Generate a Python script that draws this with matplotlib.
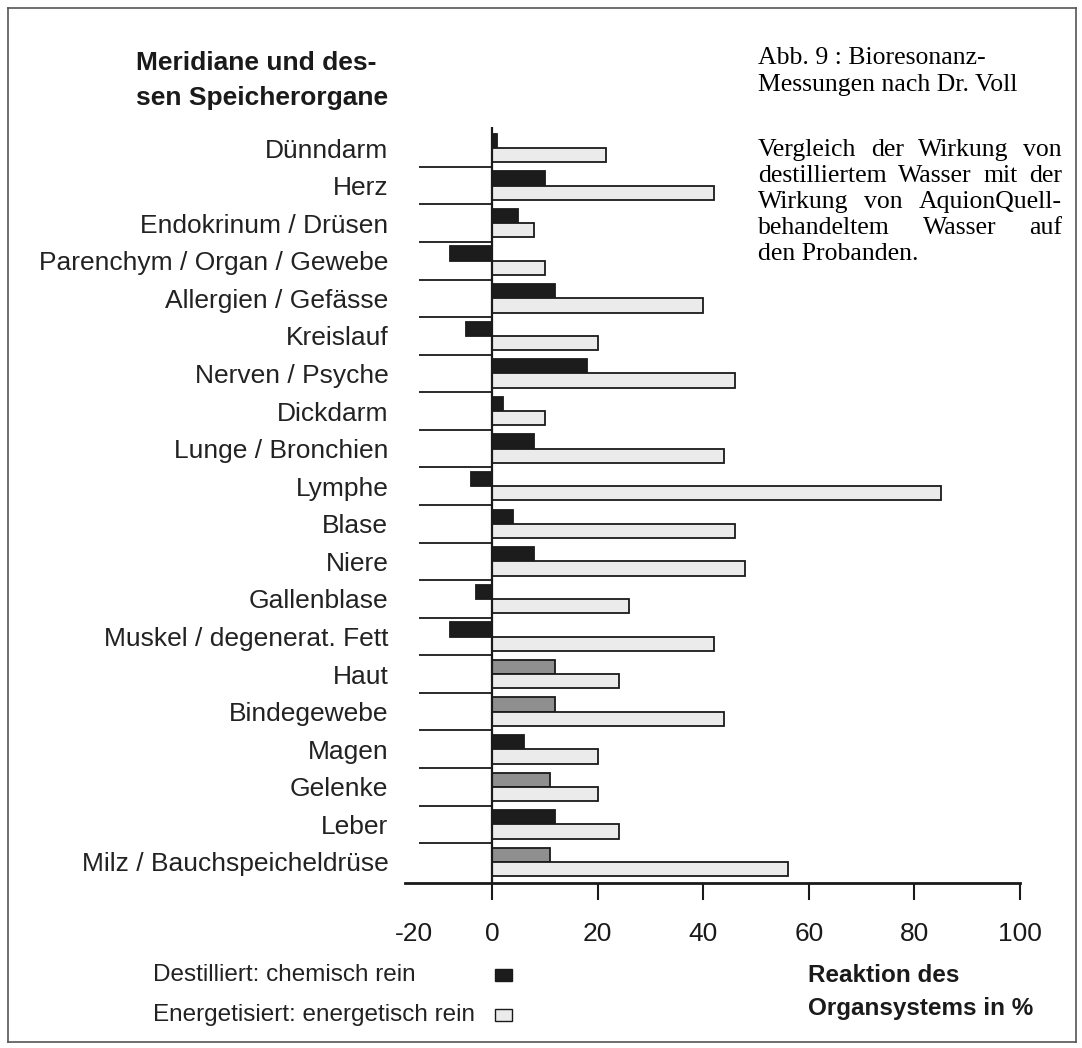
import matplotlib
matplotlib.use('Agg')
import matplotlib.pyplot as plt
from matplotlib.patches import Rectangle
from matplotlib.lines import Line2D
import numpy as np

# ---------------- data ----------------
categories = ["Dünndarm", "Herz", "Endokrinum / Drüsen", "Parenchym / Organ / Gewebe",
              "Allergien / Gefässe", "Kreislauf", "Nerven / Psyche", "Dickdarm",
              "Lunge / Bronchien", "Lymphe", "Blase", "Niere", "Gallenblase",
              "Muskel / degenerat. Fett", "Haut", "Bindegewebe", "Magen", "Gelenke",
              "Leber", "Milz / Bauchspeicheldrüse"]
destilliert = [1, 10, 5, -8, 12, -5, 18, 2, 8, -4, 4, 8, -3, -8, 12, 12, 6, 11, 12, 11]
energetisiert = [21.5, 42, 8, 10, 40, 20, 46, 10, 44, 85, 46, 48, 26, 42, 24, 44, 20, 20, 24, 56]
x_ticks = [0, 20, 40, 60, 80, 100]
x_tick_labels = ["0", "20", "40", "60", "80", "100"]
left_tick_label = "-20"
legend_labels = ["Destilliert: chemisch rein", "Energetisiert: energetisch rein"]

# ---------------- style ----------------
W, H = 1082, 1048
DARK = '#1c1c1c'
FADED = '#8f8f8f'
LIGHT = '#ebebeb'
INK = '#1a1a1a'
dark_colors = [DARK] * len(categories)
for name in ["Haut", "Bindegewebe", "Gelenke", "Milz / Bauchspeicheldrüse"]:
    dark_colors[categories.index(name)] = FADED

SANS = ['Liberation Sans', 'DejaVu Sans']
SERIF = ['Liberation Serif', 'DejaVu Serif']

def fx(px):
    return px / W

def fy(py):
    return 1 - py / H

fig = plt.figure(figsize=(W / 100, H / 100), dpi=100)
fig.patch.set_facecolor('white')

ax_left, ax_right, ax_top, ax_bottom = 405, 1020, 127, 883
ax = fig.add_axes([fx(ax_left), fy(ax_bottom), (ax_right - ax_left) / W, (ax_bottom - ax_top) / H])

n = len(categories)
y = np.arange(n)
bh = 0.38
ax.barh(y - bh / 2, destilliert, height=bh, color=dark_colors, edgecolor=INK, linewidth=1.3, zorder=3)
ax.barh(y + bh / 2, energetisiert, height=bh, color=LIGHT, edgecolor=INK, linewidth=1.3, zorder=3)

xmin = -16.5
ax.set_xlim(xmin, 100)
ax.set_ylim(n - 1 + 0.56, -0.56)

# separator lines between categories (left of zero)
for b in np.arange(n - 1) + 0.5:
    ax.plot([-13.8, 0], [b, b], color='#2a2a2a', lw=1.4, zorder=2, solid_capstyle='butt')

# zero line
ax.axvline(0, color=INK, lw=1.6, zorder=4)

for s in ['top', 'right', 'left']:
    ax.spines[s].set_visible(False)
ax.spines['bottom'].set_linewidth(2.0)
ax.spines['bottom'].set_color(INK)

ax.set_xticks([xmin + 1.7] + x_ticks)
ax.set_xticklabels([left_tick_label] + x_tick_labels, fontsize=19, family=SANS, color=INK)
ax.tick_params(axis='x', direction='out', length=12, width=1.5, pad=16, color=INK)
ax.xaxis.get_major_ticks()[0].tick1line.set_visible(False)

ax.set_yticks(y)
ax.set_yticklabels(categories, fontsize=19, family=SANS, color='#222222')
ax.tick_params(axis='y', length=0, pad=12)

# title (left)
fig.text(fx(136), fy(63), "Meridiane und des-", fontsize=19, fontweight='bold', family=SANS,
         color=INK, ha='left', va='center')
fig.text(fx(136), fy(98), "sen Speicherorgane", fontsize=19, fontweight='bold', family=SANS,
         color=INK, ha='left', va='center')

# right caption (serif)
fig.text(fx(758), fy(58), "Abb. 9 : Bioresonanz-", fontsize=18.5, family=SERIF, color='black',
         ha='left', va='center')
fig.text(fx(758), fy(85), "Messungen nach Dr. Voll", fontsize=18.5, family=SERIF, color='black',
         ha='left', va='center')

para = ["Vergleich der Wirkung von", "destilliertem Wasser mit der",
        "Wirkung von AquionQuell-", "behandeltem Wasser auf", "den Probanden."]
renderer = fig.canvas.get_renderer()
x0, x1 = fx(758), fx(1062)
for i, line in enumerate(para):
    yy = fy(150 + i * 26)
    words = line.split()
    if i == len(para) - 1:
        fig.text(x0, yy, line, fontsize=18.5, family=SERIF, ha='left', va='center')
        continue
    texts = [fig.text(0, yy, w, fontsize=18.5, family=SERIF, ha='left', va='center') for w in words]
    widths = [t.get_window_extent(renderer).width / fig.bbox.width for t in texts]
    gap = ((x1 - x0) - sum(widths)) / (len(words) - 1)
    xc = x0
    for t, wd in zip(texts, widths):
        t.set_x(xc)
        xc += wd + gap

# legend (bottom left)
fig.text(fx(153), fy(975), legend_labels[0], fontsize=17.5, family=SANS, color='#222222',
         ha='left', va='center')
fig.text(fx(153), fy(1015), legend_labels[1], fontsize=17.5, family=SANS, color='#222222',
         ha='left', va='center')
fig.patches.append(Rectangle((fx(495), fy(981)), fx(512) - fx(495), fy(969) - fy(981),
                             transform=fig.transFigure, facecolor=DARK, edgecolor=INK, lw=1))
fig.patches.append(Rectangle((fx(495), fy(1021)), fx(512) - fx(495), fy(1009) - fy(1021),
                             transform=fig.transFigure, facecolor=LIGHT, edgecolor=INK, lw=1))

# axis caption (bottom right)
fig.text(fx(808), fy(975), "Reaktion des", fontsize=17.5, fontweight='bold', family=SANS,
         color=INK, ha='left', va='center')
fig.text(fx(808), fy(1009), "Organsystems in %", fontsize=17.5, fontweight='bold', family=SANS,
         color=INK, ha='left', va='center')

# page frame
frame = [((8, 8), (1076, 8)), ((8, 8), (8, 1042)), ((8, 1042), (1076, 1042)), ((1076, 8), (1076, 1042))]
for (xa, ya), (xb, yb) in frame:
    fig.lines.append(Line2D([fx(xa), fx(xb)], [fy(ya), fy(yb)], transform=fig.transFigure,
                            color='#555555', lw=1.2))

fig.savefig('out.png', dpi=100, facecolor='white')
